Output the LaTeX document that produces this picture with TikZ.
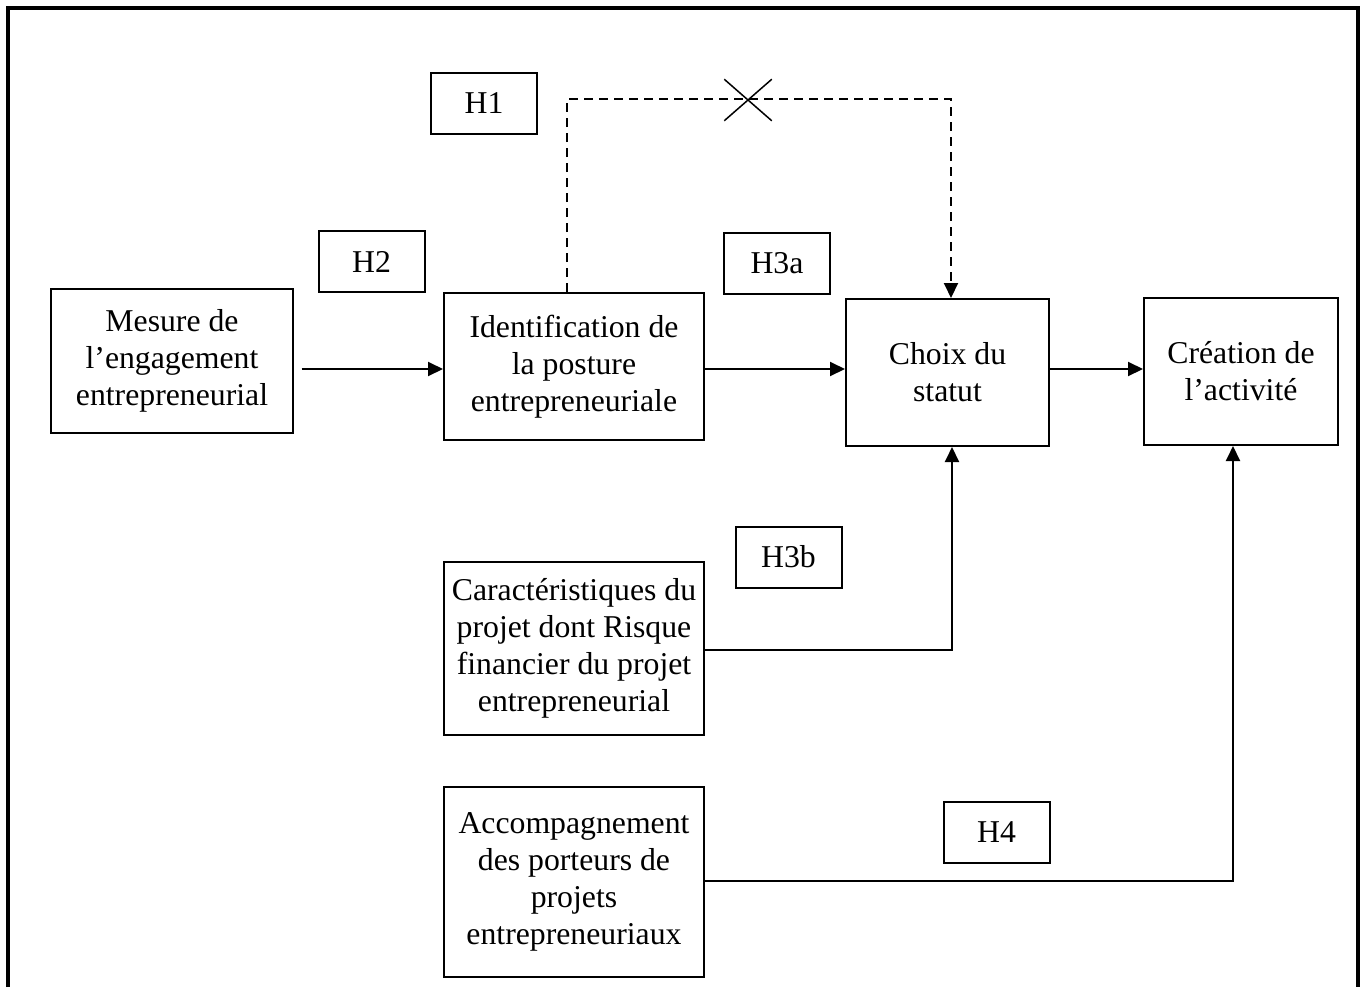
\documentclass[tikz,border=0pt]{standalone}
\usepackage{fontspec}
\setmainfont{Liberation Serif}
\usetikzlibrary{arrows.meta,shapes.misc}

\tikzset{
  box/.style={draw, line width=0.8pt, align=center, inner sep=1pt,
              font=\fontsize{12.7}{14.8}\selectfont},
  hyp/.style={box, minimum width=42.4pt, minimum height=24.4pt},
  link/.style={line width=0.8pt, -{Triangle[length=6pt,width=5.6pt]}},
}

\begin{document}
\begin{tikzpicture}[x=0.4pt, y=-0.4pt]
  \useasboundingbox (0,0) rectangle (1367,987);
  % cadre
  \draw[line width=1.3pt] (8,987) -- (8,8) -- (1358,8) -- (1358,987);

  % blocs
  \node[box, minimum width=96.8pt, minimum height=57.6pt] (mes) at (172,361)
    {Mesure de\\l’engagement\\entrepreneurial};
  \node[box, minimum width=104pt, minimum height=58.8pt] (ide) at (574,366.5)
    {Identification de\\la posture\\entrepreneuriale};
  \node[box, minimum width=81.2pt, minimum height=58.8pt] (cho) at (947.5,372.5)
    {Choix du\\statut};
  \node[box, minimum width=77.6pt, minimum height=58.8pt] (cre) at (1241,371.5)
    {Création de\\l’activité};
  \node[box, minimum width=104pt, minimum height=69.2pt] (car) at (574,648.5)
    {Caractéristiques du\\projet dont Risque\\financier du projet\\entrepreneurial};
  \node[box, minimum width=104pt, minimum height=76pt] (acc) at (574,882)
    {Accompagnement\\des porteurs de\\projets\\entrepreneuriaux};

  % hypotheses
  \node[hyp] (h1) at (484,103.5) {H1};
  \node[hyp] (h2) at (371.5,261.5) {H2};
  \node[hyp] (h3a) at (777,263) {H3a};
  \node[hyp] (h3b) at (788.5,557) {H3b};
  \node[hyp] (h4) at (996.5,832) {H4};

  % liens
  \coordinate (d1) at (567,99);
  \coordinate (d2) at (951,99);
  \coordinate (c1) at (952,650);
  \coordinate (c2) at (1233,881);

  \draw[link] ([xshift=3pt]mes.east |- 0,369) -- (ide.west |- 0,369);
  \draw[link] (ide.east |- 0,369) -- (cho.west |- 0,369);
  \draw[link] (cho.east |- 0,369) -- (cre.west |- 0,369);
  \draw[link, dash pattern=on 3.5pt off 2.5pt] (d1 |- ide.north) -- (d1) -- (d2) -- (d2 |- cho.north);
  \node[cross out, draw, line width=0.6pt, minimum width=18.4pt, minimum height=16pt,
        inner sep=0pt] (x) at (748,100) {};
  \draw[link] (car.east |- c1) -- (c1) -- (c1 |- cho.south);
  \draw[link] (acc.east |- c2) -- (c2) -- (c2 |- cre.south);
\end{tikzpicture}
\end{document}
